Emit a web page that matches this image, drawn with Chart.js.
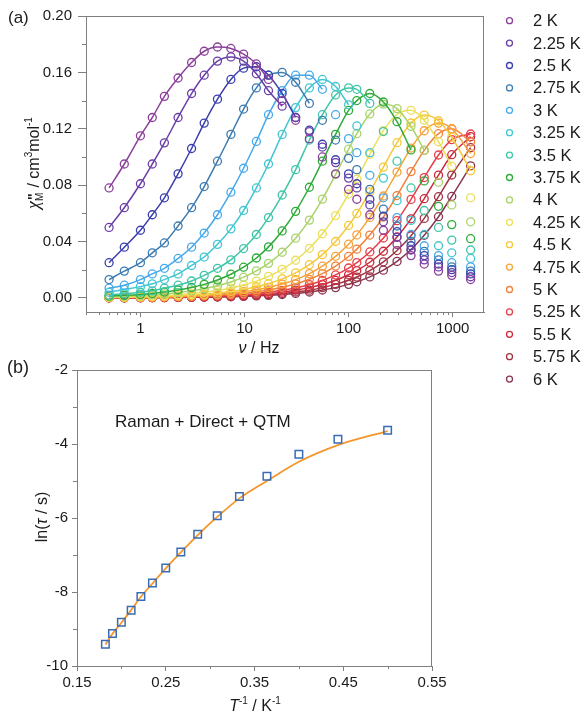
<!DOCTYPE html>
<html>
<head>
<meta charset="utf-8">
<script src="https://cdn.jsdelivr.net/npm/chart.js@4.4.0/dist/chart.umd.min.js"></script>
<style>
  body { margin: 0; background: #fff; }
  #wrap { position: relative; width: 587px; height: 717px; }
  canvas { position: absolute; left: 0; }
</style>
</head>
<body>
<div id="wrap">
  <canvas id="chartA" width="587" height="400" style="top:0"></canvas>
  <canvas id="chartB" width="587" height="387" style="top:330px"></canvas>
</div>
<script>
// (a) chi'' vs frequency, one series per temperature
const freqs = [0.5, 0.7, 1, 1.3, 1.7, 2.3, 3.1, 4.1, 5.5, 7.4, 9.8, 13, 17, 23, 31, 42, 56, 75, 100, 120, 160, 216, 292, 398, 533, 731, 980, 1488];
const temps = ['2 K', '2.25 K', '2.5 K', '2.75 K', '3 K', '3.25 K', '3.5 K', '3.75 K', '4 K', '4.25 K', '4.5 K', '4.75 K', '5 K', '5.25 K', '5.5 K', '5.75 K', '6 K'];
const colors = ['#8b3f9a', '#6b3fa8', '#3b3fae', '#3d7bb0', '#45a9ec', '#42c6d2', '#3fc6a8', '#2eaa3a', '#a9d36b', '#ecdf5a', '#f5c93b', '#f6a23b', '#f0823c', '#e8404a', '#cc2a3a', '#a33442', '#8a3550'];

const chi2K   = [0.078, 0.095, 0.115, 0.128, 0.143, 0.156, 0.167, 0.175, 0.178, 0.177, 0.173, 0.166, 0.155, 0.140, 0.126, 0.113, 0.100, 0.088, 0.077, 0.070, 0.059, 0.048, 0.038, 0.030, 0.024, 0.019, 0.016, 0.013];
const chi225K = [0.050, 0.064, 0.081, 0.095, 0.110, 0.128, 0.145, 0.158, 0.168, 0.171, 0.168, 0.159, 0.147, 0.136, 0.128, 0.118, 0.107, 0.096, 0.085, 0.078, 0.066, 0.054, 0.043, 0.034, 0.027, 0.022, 0.018, 0.015];
const chi25K  = [0.025, 0.036, 0.048, 0.059, 0.071, 0.088, 0.106, 0.124, 0.141, 0.155, 0.163, 0.164, 0.158, 0.145, 0.128, 0.119, 0.109, 0.098, 0.088, 0.081, 0.070, 0.058, 0.047, 0.037, 0.030, 0.024, 0.020, 0.017];
const chi275K = [0.013, 0.019, 0.025, 0.032, 0.039, 0.051, 0.064, 0.079, 0.097, 0.116, 0.134, 0.149, 0.158, 0.160, 0.153, 0.138, 0.126, 0.112, 0.099, 0.091, 0.077, 0.063, 0.051, 0.040, 0.033, 0.027, 0.022, 0.019];
const chi3K   = [0.007, 0.009, 0.013, 0.017, 0.021, 0.028, 0.036, 0.046, 0.059, 0.075, 0.092, 0.111, 0.130, 0.147, 0.158, 0.158, 0.148, 0.130, 0.113, 0.103, 0.087, 0.071, 0.057, 0.045, 0.037, 0.030, 0.025, 0.022];
const chi325K = [0.004, 0.006, 0.008, 0.010, 0.013, 0.017, 0.023, 0.029, 0.038, 0.049, 0.062, 0.078, 0.095, 0.116, 0.135, 0.149, 0.155, 0.150, 0.137, 0.122, 0.103, 0.085, 0.069, 0.055, 0.045, 0.037, 0.032, 0.028];
const chi35K  = [0.002, 0.003, 0.004, 0.005, 0.007, 0.009, 0.012, 0.016, 0.021, 0.027, 0.035, 0.045, 0.057, 0.073, 0.091, 0.112, 0.130, 0.144, 0.149, 0.148, 0.138, 0.118, 0.097, 0.078, 0.062, 0.050, 0.041, 0.034];
const chi375K = [0.0013, 0.0018, 0.0025, 0.0032, 0.0042, 0.0056, 0.0074, 0.0096, 0.0127, 0.0168, 0.0218, 0.0283, 0.0362, 0.0475, 0.0614, 0.0785, 0.097, 0.116, 0.133, 0.140, 0.145, 0.139, 0.125, 0.105, 0.083, 0.065, 0.052, 0.042];
const chi4K   = [0.0009, 0.0012, 0.0017, 0.0022, 0.0028, 0.0037, 0.0050, 0.0065, 0.0086, 0.0113, 0.0147, 0.0192, 0.0245, 0.0324, 0.0424, 0.0552, 0.0701, 0.0875, 0.1055, 0.1165, 0.1305, 0.1375, 0.1343, 0.1217, 0.1046, 0.082, 0.066, 0.054];
const chi425K = [0.0005, 0.0007, 0.0010, 0.0013, 0.0017, 0.0023, 0.0031, 0.0040, 0.0053, 0.0070, 0.0091, 0.0119, 0.0153, 0.0203, 0.0267, 0.0352, 0.0455, 0.0584, 0.0737, 0.0843, 0.1019, 0.1187, 0.1303, 0.1331, 0.1261, 0.1108, 0.0934, 0.071];
const chi45K  = [0.0004, 0.0005, 0.0007, 0.0009, 0.0011, 0.0015, 0.0020, 0.0026, 0.0035, 0.0046, 0.0060, 0.0079, 0.0101, 0.0135, 0.0178, 0.0236, 0.0307, 0.0400, 0.0514, 0.0599, 0.0752, 0.0928, 0.1101, 0.1241, 0.1297, 0.1257, 0.1140, 0.0902];
const chi475K = [0.0003, 0.0004, 0.0005, 0.0006, 0.0008, 0.0011, 0.0015, 0.0019, 0.0025, 0.0034, 0.0044, 0.0057, 0.0074, 0.0098, 0.0130, 0.0172, 0.0225, 0.0295, 0.0381, 0.0447, 0.0571, 0.0723, 0.0893, 0.1063, 0.1186, 0.1240, 0.1200, 0.1024];
const chi5K   = [0.0002, 0.0003, 0.0004, 0.0005, 0.0006, 0.0008, 0.0011, 0.0015, 0.0019, 0.0026, 0.0033, 0.0044, 0.0056, 0.0075, 0.0099, 0.0132, 0.0172, 0.0226, 0.0294, 0.0346, 0.0446, 0.0574, 0.0726, 0.0896, 0.1047, 0.1165, 0.1200, 0.1107];
const chi525K = [0.0001, 0.0002, 0.0003, 0.0003, 0.0005, 0.0006, 0.0008, 0.0010, 0.0014, 0.0018, 0.0024, 0.0031, 0.0040, 0.0054, 0.0071, 0.0094, 0.0124, 0.0163, 0.0212, 0.0251, 0.0326, 0.0425, 0.0548, 0.0699, 0.0854, 0.1014, 0.1123, 0.1163];
const chi55K  = [0.0001, 0.0001, 0.0002, 0.0003, 0.0003, 0.0005, 0.0006, 0.0008, 0.0011, 0.0014, 0.0018, 0.0024, 0.0031, 0.0041, 0.0055, 0.0073, 0.0095, 0.0125, 0.0164, 0.0194, 0.0253, 0.0331, 0.0432, 0.0561, 0.0704, 0.0871, 0.1016, 0.1144];
const chi575K = [0.0001, 0.0001, 0.0002, 0.0002, 0.0003, 0.0004, 0.0005, 0.0006, 0.0008, 0.0011, 0.0014, 0.0018, 0.0023, 0.0031, 0.0042, 0.0055, 0.0073, 0.0096, 0.0125, 0.0148, 0.0194, 0.0256, 0.0336, 0.0441, 0.0564, 0.0718, 0.0872, 0.1066];
const chi6K   = [0.0001, 0.0001, 0.0001, 0.0002, 0.0002, 0.0003, 0.0004, 0.0005, 0.0006, 0.0008, 0.0011, 0.0014, 0.0018, 0.0024, 0.0032, 0.0042, 0.0056, 0.0073, 0.0096, 0.0114, 0.0149, 0.0197, 0.0259, 0.0343, 0.0444, 0.0576, 0.0720, 0.0937];

const series = [chi2K, chi225K, chi25K, chi275K, chi3K, chi325K, chi35K, chi375K, chi4K, chi425K, chi45K, chi475K, chi5K, chi525K, chi55K, chi575K, chi6K];
// index of the last frequency covered by each fitted curve
const fitEnd = [12, 13, 14, 15, 16, 18, 20, 23, 24, 26, 27, 27, 27, 27, 27, 27, 27];

const xTicksA = [1, 10, 100, 1000];
const yTicksA = [0, 0.04, 0.08, 0.12, 0.16, 0.20];

// (b) ln(tau) vs 1/T
const invT = [0.182, 0.190, 0.200, 0.211, 0.222, 0.235, 0.250, 0.267, 0.286, 0.308, 0.333, 0.364, 0.400, 0.444, 0.500];
const lnTau = [-9.41, -9.12, -8.82, -8.49, -8.12, -7.76, -7.35, -6.92, -6.44, -5.94, -5.42, -4.87, -4.28, -3.87, -3.63];
const lnTauFit = [-9.42, -9.13, -8.83, -8.49, -8.13, -7.77, -7.36, -6.93, -6.46, -5.97, -5.47, -5.00, -4.48, -4.03, -3.65];

const xTicksB = [0.15, 0.25, 0.35, 0.45, 0.55];
const yTicksB = [-10, -8, -6, -4, -2];

const FONT = '"Liberation Sans", Arial, sans-serif';
const AXIS = '#7f7f7f';
const TEXT = '#1a1a1a';

// draws a line of mixed fonts centred on (x, y); rot turns it
function drawRich(ctx, parts, x, y, rot) {
  ctx.save();
  ctx.translate(x, y);
  if (rot) ctx.rotate(rot);
  ctx.fillStyle = TEXT;
  ctx.textBaseline = 'alphabetic';
  ctx.textAlign = 'left';
  let total = 0;
  parts.forEach(p => {
    ctx.font = p.f;
    p.adv = p.w !== undefined ? p.w : ctx.measureText(p.t).width;
    total += p.adv;
  });
  let cx = -total / 2;
  parts.forEach(p => {
    ctx.font = p.f;
    ctx.fillText(p.t, cx + (p.dx || 0), p.dy || 0);
    cx += p.adv;
  });
  ctx.restore();
}

function frameAndMinor(chart, xMinor, yMinor) {
  const ctx = chart.ctx;
  const a = chart.chartArea;
  const sx = chart.scales.x, sy = chart.scales.y;
  ctx.save();
  ctx.strokeStyle = AXIS;
  ctx.lineWidth = 1;
  ctx.beginPath();
  ctx.moveTo(a.left, Math.round(a.top) + 0.5);
  ctx.lineTo(a.right, Math.round(a.top) + 0.5);
  ctx.moveTo(Math.round(a.right) - 0.5, a.top);
  ctx.lineTo(Math.round(a.right) - 0.5, a.bottom);
  xMinor.forEach(v => {
    const px = Math.round(sx.getPixelForValue(v)) + 0.5;
    ctx.moveTo(px, a.bottom);
    ctx.lineTo(px, a.bottom + 3);
  });
  yMinor.forEach(v => {
    const py = Math.round(sy.getPixelForValue(v)) + 0.5;
    ctx.moveTo(a.left, py);
    ctx.lineTo(a.left - 4, py);
  });
  ctx.stroke();
  ctx.restore();
}

const datasetsA = [];
series.forEach((vals, i) => {
  const pts = freqs.map((f, j) => ({ x: f, y: vals[j] }));
  datasetsA.push({
    label: temps[i] + ' fit',
    data: pts.slice(0, fitEnd[i] + 1),
    showLine: true,
    borderColor: colors[i],
    borderWidth: 1.5,
    pointRadius: 0,
    cubicInterpolationMode: 'monotone'
  });
  datasetsA.push({
    label: temps[i],
    data: pts,
    showLine: false,
    pointStyle: 'circle',
    pointRadius: 4,
    pointBorderWidth: 1.3,
    pointBorderColor: colors[i],
    pointBackgroundColor: 'rgba(0,0,0,0)'
  });
});

const xMinorA = [];
[0.1, 1, 10, 100].forEach(d => { for (let k = 2; k <= 9; k++) { const v = d * k; if (v > 0.3 && v < 2000) xMinorA.push(v); } });

const decorA = {
  id: 'decorA',
  afterDraw(chart) {
    const ctx = chart.ctx;
    frameAndMinor(chart, xMinorA, [0.02, 0.06, 0.10, 0.14, 0.18]);

    ctx.save();
    ctx.fillStyle = TEXT;
    ctx.font = '17px ' + FONT;
    ctx.textBaseline = 'middle';
    ctx.fillText('(a)', 8, 18);

    // legend
    ctx.font = '16.5px ' + FONT;
    temps.forEach((t, i) => {
      const y = 20.7 + i * 22.4;
      ctx.beginPath();
      ctx.strokeStyle = colors[i];
      ctx.lineWidth = 1.3;
      ctx.arc(509.5, y, 3, 0, Math.PI * 2);
      ctx.stroke();
      ctx.fillStyle = TEXT;
      ctx.fillText(t, 533, y + 1);
    });
    ctx.restore();

    drawRich(ctx, [
      { t: 'ν', f: 'italic 16px ' + FONT },
      { t: ' / Hz', f: '16px ' + FONT }
    ], 259, 353);

    drawRich(ctx, [
      { t: 'χ', f: 'italic 18px "Liberation Serif", serif' },
      { t: 'M', f: '10px ' + FONT, dy: 4, w: 0 },
      { t: '"', f: 'bold 14px ' + FONT, dy: -1, dx: 1, w: 9 },
      { t: ' / cm', f: '16px ' + FONT },
      { t: '3', f: '10px ' + FONT, dy: -7 },
      { t: 'mol', f: '16px ' + FONT },
      { t: '-1', f: '10px ' + FONT, dy: -7 }
    ], 39, 163, -Math.PI / 2);
  }
};

new Chart(document.getElementById('chartA'), {
  type: 'scatter',
  data: { datasets: datasetsA },
  options: {
    responsive: false,
    animation: false,
    events: [],
    layout: { padding: { left: 0, right: 103, top: 16, bottom: 0 } },
    plugins: { legend: { display: false }, tooltip: { enabled: false } },
    scales: {
      x: {
        type: 'logarithmic',
        min: 0.3,
        max: 2000,
        afterBuildTicks: s => { s.ticks = xTicksA.map(v => ({ value: v })); },
        afterFit: s => { s.height = 88; },
        ticks: { callback: v => String(v), font: { family: FONT, size: 15 }, color: TEXT, padding: 3, autoSkip: false, maxRotation: 0 },
        grid: { display: true, drawOnChartArea: false, drawTicks: true, tickLength: 5, color: AXIS },
        border: { color: AXIS, width: 1 }
      },
      y: {
        min: -0.01,
        max: 0.20,
        afterBuildTicks: s => { s.ticks = yTicksA.map(v => ({ value: v })); },
        afterFit: s => { s.width = 86; },
        ticks: { callback: v => v.toFixed(2), font: { family: FONT, size: 15 }, color: TEXT, padding: 6 },
        grid: { display: true, drawOnChartArea: false, drawTicks: true, tickLength: 8, color: AXIS },
        border: { color: AXIS, width: 1 }
      }
    }
  },
  plugins: [decorA]
});

const decorB = {
  id: 'decorB',
  afterDraw(chart) {
    const ctx = chart.ctx;
    frameAndMinor(chart, [0.20, 0.30, 0.40, 0.50], [-9, -7, -5, -3]);

    ctx.save();
    ctx.fillStyle = TEXT;
    ctx.textBaseline = 'middle';
    ctx.font = '18px ' + FONT;
    ctx.fillText('(b)', 7, 38);
    ctx.font = '17px ' + FONT;
    ctx.fillText('Raman + Direct + QTM', 115, 92);
    ctx.restore();

    drawRich(ctx, [
      { t: 'T', f: 'italic 16px ' + FONT },
      { t: '-1', f: '10px ' + FONT, dy: -7 },
      { t: ' / K', f: '16px ' + FONT },
      { t: '-1', f: '10px ' + FONT, dy: -7 }
    ], 255, 381);

    drawRich(ctx, [
      { t: 'ln(', f: '16px ' + FONT },
      { t: 'τ', f: 'italic 16px ' + FONT },
      { t: ' / s)', f: '16px ' + FONT }
    ], 47, 187, -Math.PI / 2);
  }
};

new Chart(document.getElementById('chartB'), {
  type: 'scatter',
  data: {
    datasets: [
      {
        label: 'ln tau',
        data: invT.map((x, i) => ({ x, y: lnTau[i] })),
        showLine: false,
        pointStyle: 'rect',
        pointRadius: 5.3,
        pointBorderWidth: 1.5,
        pointBorderColor: '#3a6cb4',
        pointBackgroundColor: 'rgba(0,0,0,0)'
      },
      {
        label: 'fit',
        data: invT.map((x, i) => ({ x, y: lnTauFit[i] })),
        showLine: true,
        borderColor: '#f5962a',
        borderWidth: 1.8,
        pointRadius: 0,
        cubicInterpolationMode: 'monotone'
      }
    ]
  },
  options: {
    responsive: false,
    animation: false,
    events: [],
    layout: { padding: { left: 0, right: 155, top: 40, bottom: 0 } },
    plugins: { legend: { display: false }, tooltip: { enabled: false } },
    scales: {
      x: {
        min: 0.15,
        max: 0.55,
        afterBuildTicks: s => { s.ticks = xTicksB.map(v => ({ value: v })); },
        afterFit: s => { s.height = 51; },
        ticks: { callback: v => v.toFixed(2), font: { family: FONT, size: 15 }, color: TEXT, padding: 3, autoSkip: false, maxRotation: 0 },
        grid: { display: true, drawOnChartArea: false, drawTicks: true, tickLength: 5, color: AXIS },
        border: { color: AXIS, width: 1 }
      },
      y: {
        min: -10,
        max: -2,
        afterBuildTicks: s => { s.ticks = yTicksB.map(v => ({ value: v })); },
        afterFit: s => { s.width = 77; },
        ticks: { callback: v => String(v), font: { family: FONT, size: 15 }, color: TEXT, padding: 4 },
        grid: { display: true, drawOnChartArea: false, drawTicks: true, tickLength: 5, color: AXIS },
        border: { color: AXIS, width: 1 }
      }
    }
  },
  plugins: [decorB]
});
</script>
</body>
</html>
